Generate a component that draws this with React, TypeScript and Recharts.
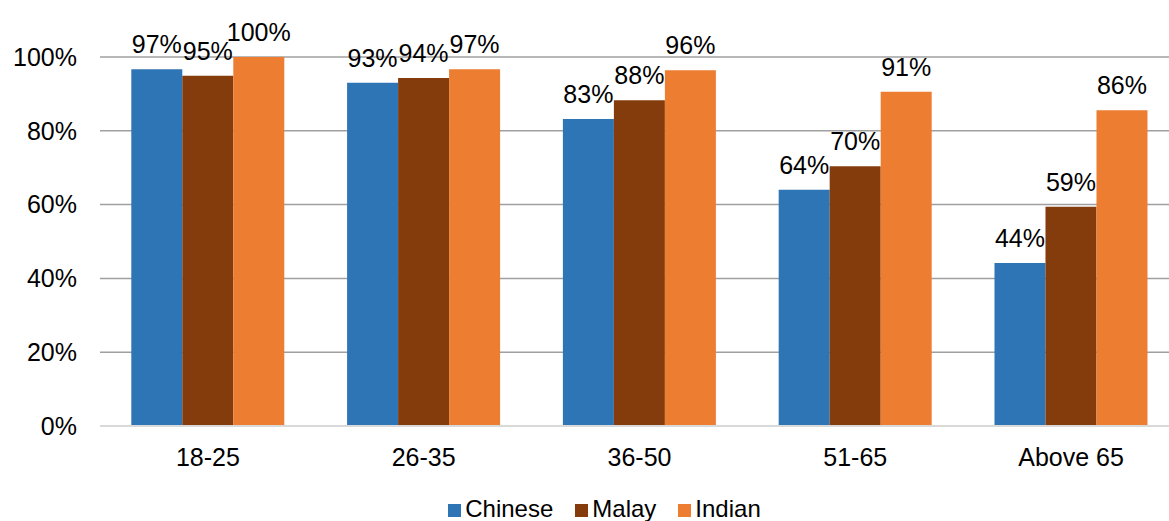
import React from 'react';
import { BarChart, Bar, XAxis, YAxis, CartesianGrid, Legend, LabelList } from 'recharts';

const categories = ['18-25', '26-35', '36-50', '51-65', 'Above 65'];
const chinese = [96.7, 93.0, 83.2, 64.0, 44.2];
const malay = [94.9, 94.3, 88.3, 70.4, 59.4];
const indian = [100, 96.7, 96.4, 90.6, 85.6];
const seriesOrder = ['Chinese', 'Malay', 'Indian'];
const yTicks = [0, 20, 40, 60, 80, 100];

const data = categories.map((c, i) => ({
  name: c,
  Chinese: chinese[i],
  Malay: malay[i],
  Indian: indian[i],
}));

const FONT = '"Liberation Sans", Arial, sans-serif';
const pct = (v: any) => `${Math.round(Number(v))}%`;

export default function App() {
  return (
    <div style={{ position: 'absolute', left: 0, top: 0, width: 1169, height: 521, background: '#fff', fontFamily: FONT, overflow: 'hidden' }}>
      <BarChart
        width={1169}
        height={521}
        data={data}
        margin={{ top: 57, right: -10, bottom: 36, left: 0 }}
        barCategoryGap="14.5%"
        barGap={0}
      >
        <CartesianGrid vertical={false} stroke="#a0a0a0" strokeWidth={1.5} />
        <XAxis
          dataKey="name"
          height={59}
          tickLine={false}
          axisLine={{ stroke: '#d9d9d9', strokeWidth: 2 }}
          tick={{ fill: '#000', fontSize: 25, fontFamily: FONT }}
          tickMargin={16}
        />
        <YAxis
          width={100}
          domain={[0, 100]}
          ticks={yTicks}
          tickFormatter={(v: number) => `${v}%`}
          axisLine={false}
          tickLine={false}
          tick={{ fill: '#000', fontSize: 25, fontFamily: FONT }}
          tickMargin={17}
        />
        <Legend
          verticalAlign="middle"
          align="center"
          iconType="square"
          iconSize={13}
          itemSorter={(item: any) => seriesOrder.indexOf(item.value)}
          wrapperStyle={{ top: 495, left: 31, width: 1169, fontSize: 24, fontFamily: FONT }}
          formatter={(v: string) => <span style={{ color: '#000', marginRight: 12 }}>{v}</span>}
        />
        <Bar dataKey="Chinese" fill="#2e75b6" isAnimationActive={false}>
          <LabelList dataKey="Chinese" position="top" offset={16} formatter={pct} style={{ fill: '#000', fontSize: 25, fontFamily: FONT }} />
        </Bar>
        <Bar dataKey="Malay" fill="#843c0c" isAnimationActive={false}>
          <LabelList dataKey="Malay" position="top" offset={16} formatter={pct} style={{ fill: '#000', fontSize: 25, fontFamily: FONT }} />
        </Bar>
        <Bar dataKey="Indian" fill="#ed7d31" isAnimationActive={false}>
          <LabelList dataKey="Indian" position="top" offset={16} formatter={pct} style={{ fill: '#000', fontSize: 25, fontFamily: FONT }} />
        </Bar>
      </BarChart>
    </div>
  );
}
